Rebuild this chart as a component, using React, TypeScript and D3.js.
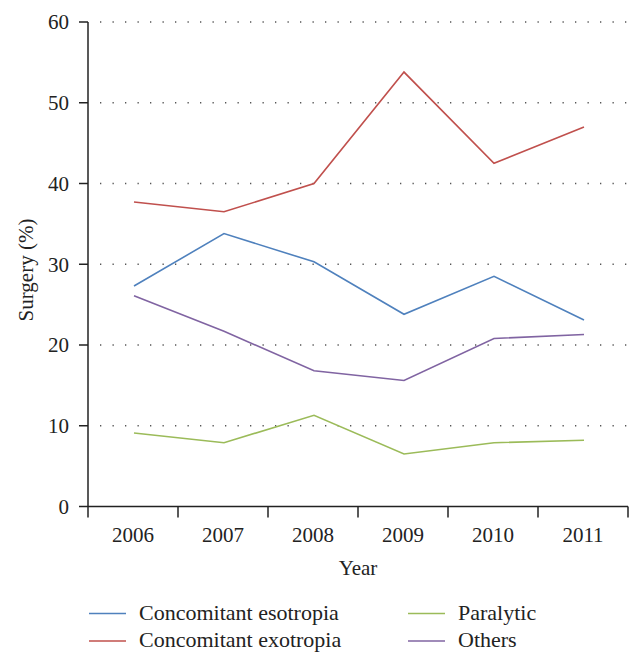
import React from "react";
import * as d3 from "d3";

const years = ["2006", "2007", "2008", "2009", "2010", "2011"];
const esotropia = [27.3, 33.8, 30.3, 23.8, 28.5, 23.1];
const exotropia = [37.7, 36.5, 40.0, 53.8, 42.5, 47.0];
const paralytic = [9.1, 7.9, 11.3, 6.5, 7.9, 8.2];
const others = [26.1, 21.7, 16.8, 15.6, 20.8, 21.3];
const yTicks = [0, 10, 20, 30, 40, 50, 60];

const series = [
  { name: "Concomitant esotropia", values: esotropia, color: "#4f81bd" },
  { name: "Concomitant exotropia", values: exotropia, color: "#c0504d" },
  { name: "Paralytic", values: paralytic, color: "#9bbb59" },
  { name: "Others", values: others, color: "#8064a2" },
];

export default function App() {
  const W = 642, H = 665;
  const left = 88, right = 628, top = 22, bottom = 506.5;
  const x = d3.scaleBand<string>().domain(years).range([left, right]);
  const y = d3.scaleLinear().domain([0, 60]).range([bottom, top]);
  const line = d3
    .line<number>()
    .x((_, i) => (x(years[i]) as number) + x.bandwidth() / 2 + 1)
    .y((d) => y(d));
  const font = "'Liberation Serif', 'Times New Roman', serif";
  const fs = 21;
  const legendPos = [
    { lx: 89, ly: 613.5, ty: 620 },
    { lx: 89, ly: 641, ty: 647 },
    { lx: 408, ly: 613.5, ty: 620 },
    { lx: 408, ly: 641, ty: 647 },
  ];
  return (
    <svg width={W} height={H} style={{ position: "absolute", left: 0, top: 0 }} fontFamily={font}>
      <rect width={W} height={H} fill="#fff" />
      {yTicks.filter((t) => t > 0).map((t) => (
        <line key={"g" + t} x1={left + 12} x2={right} y1={y(t)} y2={y(t)} stroke="#555" strokeWidth={1.3} strokeDasharray="1.3 11.2" />
      ))}
      {yTicks.map((t) => (
        <g key={"t" + t}>
          <line x1={left - 9} x2={left} y1={y(t)} y2={y(t)} stroke="#222" strokeWidth={1.5} />
          <text x={69} y={y(t)} dy="0.35em" textAnchor="end" fontSize={fs} fill="#222">{t}</text>
        </g>
      ))}
      <line x1={left} x2={left} y1={top} y2={bottom} stroke="#222" strokeWidth={1.5} />
      <line x1={left} x2={right} y1={bottom} y2={bottom} stroke="#222" strokeWidth={1.5} />
      {[...years.map((yr) => x(yr) as number), right].map((px, i) => (
        <line key={"xt" + i} x1={px} x2={px} y1={bottom} y2={bottom + 11} stroke="#222" strokeWidth={1.5} />
      ))}
      {years.map((yr) => (
        <text key={yr} x={(x(yr) as number) + x.bandwidth() / 2} y={542} textAnchor="middle" fontSize={fs} fill="#222">{yr}</text>
      ))}
      <text x={358} y={575} textAnchor="middle" fontSize={fs} fill="#222">Year</text>
      <text transform={`translate(33,${270}) rotate(-90)`} textAnchor="middle" fontSize={fs} fill="#222">Surgery (%)</text>
      {series.map((s) => (
        <path key={s.name} d={line(s.values) as string} fill="none" stroke={s.color} strokeWidth={1.6} />
      ))}
      {series.map((s, i) => (
        <g key={"l" + s.name}>
          <line x1={legendPos[i].lx} x2={legendPos[i].lx + 37} y1={legendPos[i].ly} y2={legendPos[i].ly} stroke={s.color} strokeWidth={1.6} />
          <text x={legendPos[i].lx + 50} y={legendPos[i].ty} fontSize={22} fill="#222">{s.name}</text>
        </g>
      ))}
    </svg>
  );
}
